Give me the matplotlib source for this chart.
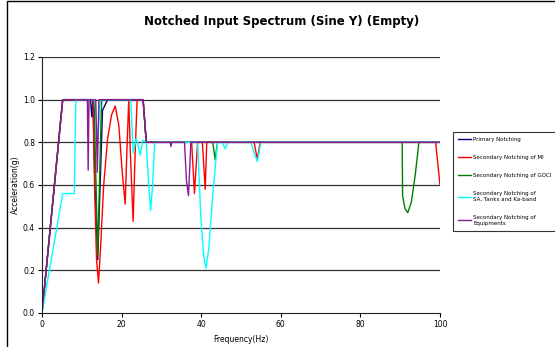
import matplotlib.pyplot as plt
from matplotlib.patches import Rectangle

# Primary Notching
f_primary = [0, 5.2, 12.2, 12.5, 12.8, 13.3, 14.0, 14.6, 15.2, 16.5, 25.4, 26.2, 100]
a_primary = [0, 1.0, 1.0, 0.92, 1.0, 0.6, 0.25, 0.6, 0.95, 1.0, 1.0, 0.8, 0.8]

# Secondary Notching of MI
f_mi = [0, 5.2, 12.8, 13.2, 13.7, 14.2, 14.7, 15.5, 16.5, 17.5, 18.4, 19.3, 20.2, 20.9,
        21.4, 21.8, 22.2, 22.9, 23.4, 23.9, 25.4, 26.2, 37.6, 38.3, 39.1, 40.3, 41.0,
        41.4, 53.3, 54.1, 54.8, 98.9, 100]
a_mi = [0, 1.0, 1.0, 0.6, 0.25, 0.14, 0.3, 0.6, 0.82, 0.93, 0.97, 0.88, 0.65, 0.51,
        0.8, 1.0, 0.75, 0.43, 0.75, 1.0, 1.0, 0.8, 0.8, 0.56, 0.8, 0.8, 0.58,
        0.8, 0.8, 0.72, 0.8, 0.8, 0.6]

# Secondary Notching of GOCI
f_goci = [0, 5.2, 13.1, 13.2, 14.0, 14.9, 15.0, 25.4, 26.2, 42.9, 43.5, 44.1, 90.5,
          90.6, 91.2, 91.9, 92.8, 93.8, 94.7, 100]
a_goci = [0, 1.0, 1.0, 0.9, 0.27, 0.95, 1.0, 1.0, 0.8, 0.8, 0.72, 0.8, 0.8,
          0.55, 0.49, 0.47, 0.52, 0.65, 0.8, 0.8]

# Secondary Notching of SA, Tanks and Ka-band
f_sa = [0, 5.2, 8.1, 8.5, 13.3, 14.0, 14.6, 22.3, 22.9, 23.7, 24.7, 25.3, 26.2, 26.8,
        27.3, 27.8, 28.3, 39.1, 39.9, 40.6, 41.2, 41.9, 42.9, 44.1, 45.3, 46.0, 46.7,
        52.5, 53.3, 54.1, 55.0, 100]
a_sa = [0, 0.56, 0.56, 1.0, 1.0, 0.8, 1.0, 1.0, 0.75, 0.82, 0.74, 0.81, 0.8, 0.6,
        0.48, 0.6, 0.8, 0.8, 0.45, 0.27, 0.21, 0.3, 0.55, 0.8, 0.8, 0.77, 0.8,
        0.8, 0.75, 0.71, 0.8, 0.8]

# Secondary Notching of Equipments
f_equip = [0, 5.2, 11.4, 11.6, 11.8, 13.5, 13.9, 14.3, 25.4, 26.2, 32.2, 32.4, 32.6,
           35.8, 36.3, 36.8, 37.4, 100]
a_equip = [0, 1.0, 1.0, 0.67, 1.0, 1.0, 0.66, 1.0, 1.0, 0.8, 0.8, 0.78, 0.8,
           0.8, 0.62, 0.55, 0.8, 0.8]

series = [
    (f_primary, a_primary, '#000080', 'Primary Notching'),
    (f_mi, a_mi, '#FF0000', 'Secondary Notching of MI'),
    (f_goci, a_goci, '#008000', 'Secondary Notching of GOCI'),
    (f_sa, a_sa, '#00FFFF', 'Secondary Notching of\nSA, Tanks and Ka-band'),
    (f_equip, a_equip, '#8A1A9A', 'Secondary Notching of\nEquipments'),
]

fig = plt.figure(figsize=(5.55, 3.47), dpi=100)
ax = fig.add_axes([42 / 555, 1 - 313 / 347, 398 / 555, 256 / 347])

# borde exterior del area del grafico
fig.patches.append(Rectangle((7 / 555, -0.1), 1.2, 1.1 - 1 / 347, transform=fig.transFigure,
                             fill=False, edgecolor='black', linewidth=1))

for y in [0.2, 0.4, 0.6, 0.8, 1.0, 1.2]:
    ax.axhline(y, color='#333333', linewidth=0.9, zorder=1)

for f, a, color, label in series:
    ax.plot(f, a, color=color, linewidth=1, label=label, zorder=2)

ax.set_xlim(0, 100)
ax.set_ylim(0, 1.2)
ax.set_xticks([0, 20, 40, 60, 80, 100])
ax.set_yticks([0.0, 0.2, 0.4, 0.6, 0.8, 1.0, 1.2])
ax.set_yticklabels(['0.0', '0.2', '0.4', '0.6', '0.8', '1.0', '1.2'])
ax.tick_params(labelsize=5.5, length=3, width=0.8, pad=2)
for s in ['top', 'right']:
    ax.spines[s].set_visible(False)
ax.spines['left'].set_color('#222222')
ax.spines['bottom'].set_color('#222222')

ax.set_xlabel('Frequency(Hz)', fontsize=5.5, labelpad=4)
ax.set_ylabel('Acceleration(g)', fontsize=5.5, labelpad=2)

fig.text(282 / 555, 1 - 22 / 347, 'Notched Input Spectrum (Sine Y) (Empty)',
         ha='center', va='center', fontsize=8.5, fontweight='bold')

leg = fig.legend(loc='upper left', bbox_to_anchor=(453 / 555, 1 - 132 / 347),
                 fontsize=4.0, frameon=True, fancybox=False, edgecolor='black',
                 handlelength=2.4, handletextpad=0.3, labelspacing=2.35,
                 borderpad=0.9, borderaxespad=0)
leg.get_frame().set_linewidth(0.8)

plt.savefig('out.png', dpi=100)
plt.close()
